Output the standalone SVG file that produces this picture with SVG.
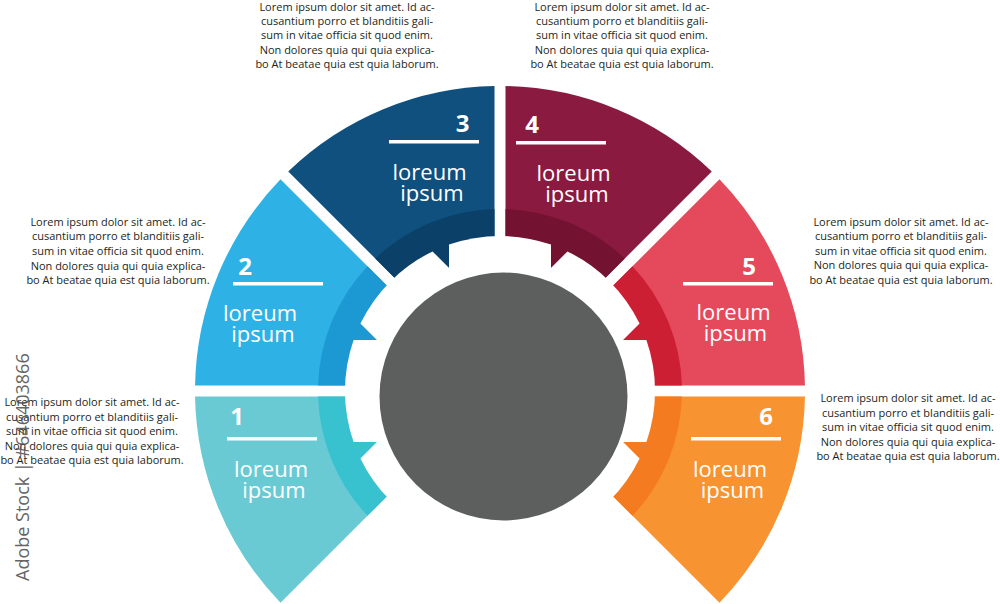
<svg xmlns="http://www.w3.org/2000/svg" xmlns:xlink="http://www.w3.org/1999/xlink" width="1000" height="604" viewBox="0 0 1000 604">
<style>
.desc{font-family:"Open Sans","Liberation Sans",sans-serif;font-size:11px;fill:#231f20;text-anchor:middle}
.num{font-family:"Open Sans","Liberation Sans",sans-serif;font-weight:700;font-size:24px;fill:#ffffff;text-anchor:middle}
.lbl{font-family:"Open Sans","Liberation Sans",sans-serif;font-size:22px;fill:#ffffff;text-anchor:middle}
.bar{fill:#ffffff}
.wm{font-family:"Open Sans","Liberation Sans",sans-serif;font-size:18px;fill:#4a4a4a;opacity:.85}
</style>
<defs>
<path id="tooth" d="M0,-51 H146.4 A155,155 0 0 1 146.4,51 H0 Z" fill="#ffffff"/>
</defs>
<rect width="1000" height="604" fill="#ffffff"/>

<g id="seg1">
<path d="M486.72,396.5 L195.05,396.5 A305,305 0 0 0 280.51,602.77 Z" fill="#6acad4"/>
<path d="M486.72,396.5 L318.08,396.5 A182,182 0 0 0 367.51,515.78 Z" fill="#38c1cf"/>
<text class="num" x="237" y="425">1</text>
<rect class="bar" x="227" y="437" width="90" height="3.5"/>
<text class="lbl" x="271" y="476.5"><tspan x="271">loreum</tspan><tspan x="274" dy="21">ipsum</tspan></text>
</g>

<g id="seg2">
<path d="M486.72,385.5 L280.51,179.23 A305,305 0 0 0 195.05,385.5 Z" fill="#2eb2e5"/>
<path d="M486.72,385.5 L367.51,266.22 A182,182 0 0 0 318.08,385.5 Z" fill="#1c98d2"/>
<text class="num" x="245" y="275">2</text>
<rect class="bar" x="233" y="282" width="90" height="3.5"/>
<text class="lbl" x="260" y="320.5"><tspan x="260">loreum</tspan><tspan x="263" dy="21">ipsum</tspan></text>
</g>

<g id="seg3">
<path d="M494.5,377.72 L494.5,86.05 A305,305 0 0 0 288.23,171.51 Z" fill="#0f507f"/>
<path d="M494.5,377.72 L494.5,209.08 A182,182 0 0 0 375.22,258.51 Z" fill="#0b4068"/>
<text class="num" x="462.5" y="132">3</text>
<rect class="bar" x="389" y="140" width="90" height="3.5"/>
<text class="lbl" x="429.5" y="179.5"><tspan x="429.5">loreum</tspan><tspan x="432" dy="21">ipsum</tspan></text>
</g>

<g id="seg4">
<path d="M505.5,377.72 L711.77,171.51 A305,305 0 0 0 505.5,86.05 Z" fill="#8a1a40"/>
<path d="M505.5,377.72 L624.78,258.51 A182,182 0 0 0 505.5,209.08 Z" fill="#731231"/>
<text class="num" x="532" y="133">4</text>
<rect class="bar" x="516" y="141" width="90" height="3.5"/>
<text class="lbl" x="573.5" y="180.5"><tspan x="573.5">loreum</tspan><tspan x="577" dy="21">ipsum</tspan></text>
</g>

<g id="seg5">
<path d="M513.28,385.5 L804.95,385.5 A305,305 0 0 0 719.49,179.23 Z" fill="#e44a5b"/>
<path d="M513.28,385.5 L681.92,385.5 A182,182 0 0 0 632.49,266.22 Z" fill="#cc1f33"/>
<text class="num" x="749" y="275">5</text>
<rect class="bar" x="683" y="282" width="90" height="3.5"/>
<text class="lbl" x="733.5" y="319.5"><tspan x="733.5">loreum</tspan><tspan x="735.5" dy="21">ipsum</tspan></text>
</g>

<g id="seg6">
<path d="M513.28,396.5 L719.49,602.77 A305,305 0 0 0 804.95,396.5 Z" fill="#f79331"/>
<path d="M513.28,396.5 L632.49,515.78 A182,182 0 0 0 681.92,396.5 Z" fill="#f47b20"/>
<text class="num" x="766" y="425">6</text>
<rect class="bar" x="691" y="437" width="90" height="3.5"/>
<text class="lbl" x="730" y="476.5"><tspan x="730">loreum</tspan><tspan x="732.5" dy="21">ipsum</tspan></text>
</g>

<g id="hub">
<g id="gear">
<use xlink:href="#tooth" transform="translate(500 391) rotate(0)"/>
<use xlink:href="#tooth" transform="translate(500 391) rotate(45)"/>
<use xlink:href="#tooth" transform="translate(500 391) rotate(90)"/>
<use xlink:href="#tooth" transform="translate(500 391) rotate(135)"/>
<use xlink:href="#tooth" transform="translate(500 391) rotate(180)"/>
<use xlink:href="#tooth" transform="translate(500 391) rotate(225)"/>
<use xlink:href="#tooth" transform="translate(500 391) rotate(270)"/>
<use xlink:href="#tooth" transform="translate(500 391) rotate(315)"/>
</g>
<circle cx="503.5" cy="396.5" r="124" fill="#5d5f5f"/>
</g>

<g id="text1">
<text class="desc" x="92" y="406"><tspan x="92">Lorem ipsum dolor sit amet. Id ac-</tspan><tspan x="92" dy="14.6">cusantium porro et blanditiis gali-</tspan><tspan x="92" dy="14.6">sum in vitae officia sit quod enim.</tspan><tspan x="92" dy="14.6">Non dolores quia qui quia explica-</tspan><tspan x="92" dy="14.6">bo At beatae quia est quia laborum.</tspan></text>
</g>
<g id="text2">
<text class="desc" x="118" y="225.5"><tspan x="118">Lorem ipsum dolor sit amet. Id ac-</tspan><tspan x="118" dy="14.7">cusantium porro et blanditiis gali-</tspan><tspan x="118" dy="14.7">sum in vitae officia sit quod enim.</tspan><tspan x="118" dy="14.7">Non dolores quia qui quia explica-</tspan><tspan x="118" dy="14.7">bo At beatae quia est quia laborum.</tspan></text>
</g>
<g id="text3">
<text class="desc" x="347" y="10.5"><tspan x="347">Lorem ipsum dolor sit amet. Id ac-</tspan><tspan x="347" dy="14.4">cusantium porro et blanditiis gali-</tspan><tspan x="347" dy="14.4">sum in vitae officia sit quod enim.</tspan><tspan x="347" dy="14.4">Non dolores quia qui quia explica-</tspan><tspan x="347" dy="14.4">bo At beatae quia est quia laborum.</tspan></text>
</g>
<g id="text4">
<text class="desc" x="622" y="10.5"><tspan x="622">Lorem ipsum dolor sit amet. Id ac-</tspan><tspan x="622" dy="14.4">cusantium porro et blanditiis gali-</tspan><tspan x="622" dy="14.4">sum in vitae officia sit quod enim.</tspan><tspan x="622" dy="14.4">Non dolores quia qui quia explica-</tspan><tspan x="622" dy="14.4">bo At beatae quia est quia laborum.</tspan></text>
</g>
<g id="text5">
<text class="desc" x="901" y="225.5"><tspan x="901">Lorem ipsum dolor sit amet. Id ac-</tspan><tspan x="901" dy="14.6">cusantium porro et blanditiis gali-</tspan><tspan x="901" dy="14.6">sum in vitae officia sit quod enim.</tspan><tspan x="901" dy="14.6">Non dolores quia qui quia explica-</tspan><tspan x="901" dy="14.6">bo At beatae quia est quia laborum.</tspan></text>
</g>
<g id="text6">
<text class="desc" x="908" y="402"><tspan x="908">Lorem ipsum dolor sit amet. Id ac-</tspan><tspan x="908" dy="14.6">cusantium porro et blanditiis gali-</tspan><tspan x="908" dy="14.6">sum in vitae officia sit quod enim.</tspan><tspan x="908" dy="14.6">Non dolores quia qui quia explica-</tspan><tspan x="908" dy="14.6">bo At beatae quia est quia laborum.</tspan></text>
</g>

<g id="connectors"></g>

<text class="wm" transform="translate(29 581) rotate(-90)">Adobe Stock | #646403866</text>
</svg>
